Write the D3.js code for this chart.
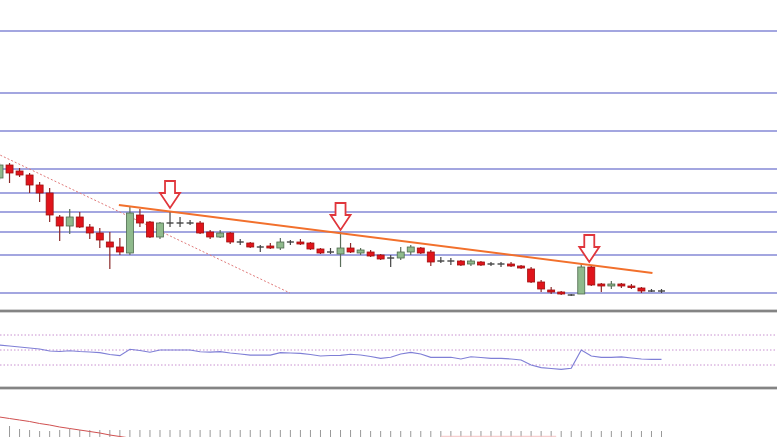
<!DOCTYPE html>
<html><head><meta charset="utf-8">
<script src="https://cdn.jsdelivr.net/npm/d3@7"></script>
<style>html,body{margin:0;padding:0;background:#fff;overflow:hidden}svg{display:block}</style>
</head><body>
<svg id="c" width="777" height="437"></svg>
<script>
// ---- data (price units) ----
const opens  = [644,670,658,650,630,614,566,548,566,546,534,516,506,494,570,556,526,554,554,554,554,536,526,534,516,514,506,508,504,516,516,514,502,496,492,504,494,496,490,484,484,496,504,496,478,478,478,472,476,472,472,472,468,462,436,420,416,410,412,466,432,428,432,428,424,418,418];
const closes = [670,654,650,630,614,570,548,566,546,534,520,506,496,574,554,526,554,554,554,554,534,526,534,516,516,506,506,504,516,516,512,502,494,496,504,496,500,488,482,484,496,506,494,476,478,478,470,478,470,472,472,468,464,436,422,416,412,410,466,430,428,432,428,426,418,418,418];
const highs  = [674,674,664,654,636,624,570,582,576,552,544,536,524,586,582,558,556,576,566,560,558,540,540,536,522,516,510,514,524,520,522,516,504,504,536,514,504,500,492,490,506,510,506,500,486,484,480,482,478,476,476,476,470,466,440,426,418,412,474,468,434,438,434,432,426,422,422];
const lows   = [640,634,646,614,596,556,518,532,544,522,504,462,490,490,546,524,522,546,546,550,532,522,524,512,510,504,496,502,500,510,510,500,492,492,466,494,490,486,480,466,480,490,492,468,474,470,468,468,468,468,466,466,462,434,416,412,410,408,412,428,416,422,424,422,414,416,414];
const gridLevels = [938,814,738,662,614,576,536,490,414];
const trendLine = [[11.9,590],[65.1,454]];
const dottedLine = [[-1,700],[28.96,414]];
const arrowAt = [[17,584],[34,540],[58.8,476]];
const rsi = [56.7,55.3,54,52.7,51.3,48.7,48,49,48,47.3,46.4,44,42.4,51,49.3,47,50,50,50,50,47.7,47.3,47.7,46,44.7,43.3,43.3,43.3,46.4,46,45.6,44,42,42.7,42.9,44.3,43.3,41.3,38.9,40.3,44.7,46.9,44.7,40.3,40.3,40.3,38,41,40,38.9,38.9,38,36.7,30,26.4,25.3,24.3,25.6,50,42,40.3,40.3,40.7,39.3,38,37.6,37.6];
const rsiLevels = [70,50,30];
const signal = [0,-1.5,-3,-4.5,-6.5,-8,-10,-11.5,-13,-14.5,-16,-18,-19.5,-21];
const hist = [null,-9,-12,-13,-14,-14,-13,-12,-13,-13,-13,-13,-13,-13,-13,-13,-13,-13,-13,-13,-13,-13,-13,-13,-13,-13,-13,-13,-13,-13,-13,-13,-13,-13,-13,-13,-13,-14,-14,-14,-14,-14,-14,-14,-14,-14,-14,-14,-14,-14,-14,-14,-14,-14,-14,-14,-14,-14,-14,-14,-14,-14,-14,-14,-14,-14,-14];

const svg = d3.select('#c');
const W = 777;
const x = d3.scaleLinear().domain([0,66]).range([-0.5,661.5]);
const y = d3.scaleLinear().domain([400,1000]).range([300,0]);
const yr = d3.scaleLinear().domain([0,100]).range([387.5,312.5]);
const yb = d3.scaleLinear().domain([0,-20]).range([417,437]);

// grid
svg.append('g').selectAll('line').data(gridLevels).join('line')
  .attr('x1',0).attr('x2',W).attr('y1',d=>y(d)).attr('y2',d=>y(d))
  .attr('stroke','#a3a6e0').attr('stroke-width',2);

// panel separators
[311,388].forEach(v=>{
  svg.append('line').attr('x1',0).attr('x2',W).attr('y1',v).attr('y2',v)
    .attr('stroke','#d2d2d2').attr('stroke-width',4);
  svg.append('line').attr('x1',0).attr('x2',W).attr('y1',v).attr('y2',v)
    .attr('stroke','#6a6a6a').attr('stroke-width',1.6);
});

// dotted red diagonal
svg.append('line')
  .attr('x1',x(dottedLine[0][0])).attr('y1',y(dottedLine[0][1]))
  .attr('x2',x(dottedLine[1][0])).attr('y2',y(dottedLine[1][1]))
  .attr('stroke','#e07a7a').attr('stroke-width',1).attr('stroke-dasharray','2,2');

// candles
const idx = d3.range(opens.length);
const cg = svg.append('g');
idx.forEach(i=>{
  const o=opens[i], c=closes[i], cx=x(i);
  const up = c>o, doji = o===c;
  cg.append('line').attr('x1',cx).attr('x2',cx).attr('y1',y(highs[i])).attr('y2',y(lows[i]))
    .attr('stroke', doji ? '#444' : (up ? '#5b6f5b' : '#8a2a2a')).attr('stroke-width',1.2);
  if (doji) {
    cg.append('line').attr('x1',cx-3.5).attr('x2',cx+3.5).attr('y1',y(o)).attr('y2',y(o))
      .attr('stroke','#444').attr('stroke-width',1.4);
  } else {
    const top = y(Math.max(o,c)), bot = y(Math.min(o,c));
    cg.append('rect').attr('x',cx-3.5).attr('width',7).attr('y',top).attr('height',Math.max(1.5,bot-top))
      .attr('fill', up ? '#8fba8c' : '#e0141b')
      .attr('stroke', up ? '#4e6a4e' : '#a01010').attr('stroke-width',0.8);
  }
});

// trend line
svg.append('line')
  .attr('x1',x(trendLine[0][0])).attr('y1',y(trendLine[0][1]))
  .attr('x2',x(trendLine[1][0])).attr('y2',y(trendLine[1][1]))
  .attr('stroke','#f2702c').attr('stroke-width',2);

// arrows
arrowAt.forEach(([i,p])=>{
  const cx=x(i), tip=y(p);
  const pts=[[cx-5,tip-27],[cx+5,tip-27],[cx+5,tip-15],[cx+10,tip-15],[cx,tip],[cx-10,tip-15],[cx-5,tip-15]];
  svg.append('polygon').attr('points',pts.map(q=>q.join(',')).join(' '))
    .attr('fill','#fff').attr('stroke','#e0363c').attr('stroke-width',1.8);
});

// RSI panel
svg.append('g').selectAll('line').data(rsiLevels).join('line')
  .attr('x1',0).attr('x2',W).attr('y1',d=>yr(d)).attr('y2',d=>yr(d))
  .attr('stroke','#c890d0').attr('stroke-width',1).attr('stroke-dasharray','1.5,2');
svg.append('path').datum(rsi)
  .attr('d',d3.line().x((d,i)=>x(i)).y(d=>yr(d)))
  .attr('fill','none').attr('stroke','#7f7fd6').attr('stroke-width',1.2);

// bottom panel
svg.append('g').selectAll('line').data(idx.filter(i=>hist[i]!==null)).join('line')
  .attr('x1',i=>x(i)).attr('x2',i=>x(i)).attr('y1',i=>yb(hist[i])).attr('y2',yb(-21))
  .attr('stroke','#999').attr('stroke-width',1);
svg.append('path').datum(signal)
  .attr('d',d3.line().x((d,i)=>x(i)).y(d=>yb(d)))
  .attr('fill','none').attr('stroke','#d05050').attr('stroke-width',1);
svg.append('line').attr('x1',x(44)).attr('x2',x(55.5)).attr('y1',yb(-19.3)).attr('y2',yb(-19.3))
  .attr('stroke','#f4c4c4').attr('stroke-width',1);
</script>
</body></html>
